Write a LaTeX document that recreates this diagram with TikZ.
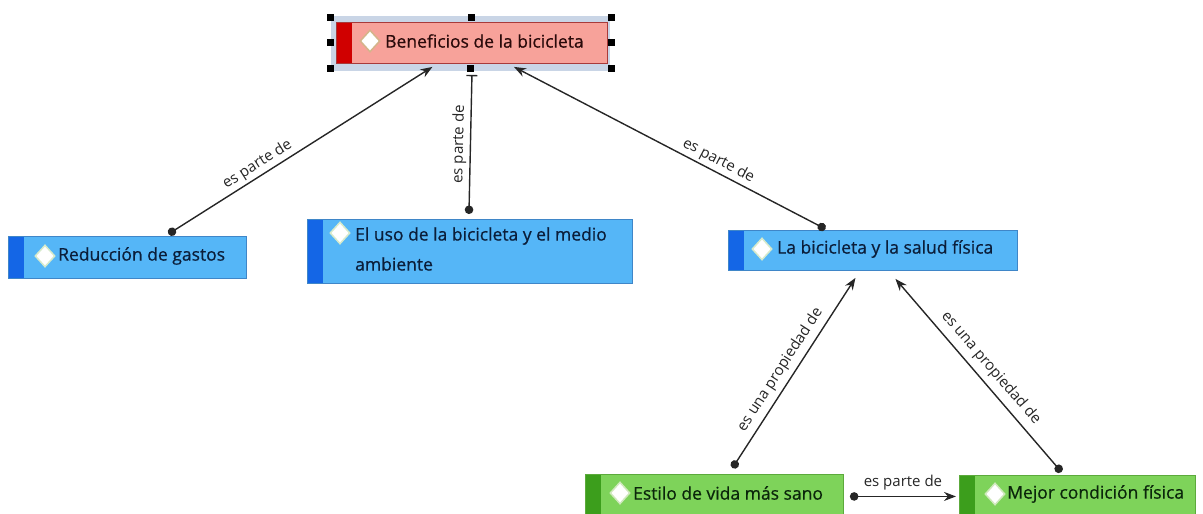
\documentclass[tikz,border=0pt]{standalone}
\usepackage{fontspec}
\setmainfont{Open Sans}
\newfontfamily\nodefont[FakeBold=0.6]{Open Sans}
\usetikzlibrary{arrows.meta,shapes.geometric}
\definecolor{redF}{HTML}{F7A29A}
\definecolor{redBar}{HTML}{D00000}
\definecolor{redB}{HTML}{A83A3A}
\definecolor{blueF}{HTML}{55B6F7}
\definecolor{blueBar}{HTML}{1466E6}
\definecolor{blueB}{HTML}{3F86C8}
\definecolor{greenF}{HTML}{7ED35A}
\definecolor{greenBar}{HTML}{3C9E1C}
\definecolor{greenB}{HTML}{5CAA3C}
\definecolor{selBg}{HTML}{C9D5E6}
\definecolor{lineC}{HTML}{262626}
\definecolor{txtR}{HTML}{2A0A0A}
\definecolor{txtB}{HTML}{0B1E3A}
\definecolor{txtG}{HTML}{0B260B}
\definecolor{diaR}{HTML}{D4B48A}
\definecolor{diaB}{HTML}{D6EACB}
\definecolor{diaG}{HTML}{CFE8BC}
\begin{document}
\begin{tikzpicture}[x=1pt,y=-1pt,
  cbox/.style n args={3}{rectangle, draw=#1, fill=#2, line width=0.9pt, inner sep=0pt, anchor=north west,
    path picture={\fill[#3] (path picture bounding box.south west) rectangle ([xshift=16pt]path picture bounding box.north west);}},
  rbox/.style={cbox={redB}{redF}{redBar}},
  bbox/.style={cbox={blueB}{blueF}{blueBar}},
  gbox/.style={cbox={greenB}{greenF}{greenBar}},
  ntext/.style={anchor=west, inner sep=0pt, font=\nodefont\fontsize{17.5}{30}\selectfont},
  dia/.style={diamond, draw=#1, fill=white, line width=1.5pt, minimum width=20pt, minimum height=22pt, inner sep=0pt},
  conn/.style={draw=lineC, line width=1.4pt, {Circle[length=8.5pt]}-{Stealth[length=12pt,width=9pt]}},
  lbl/.style={font=\fontsize{15}{17}\selectfont, text=black!85, sloped, above, inner sep=3pt},
  handle/.style={fill=black}
]
\useasboundingbox (0,0) rectangle (1203,514);

% selection background
\fill[selBg] (331,16) rectangle (610,71);

% boxes
\node[rbox, minimum width=271pt, minimum height=41pt] (ben) at (336,22) {};
\node[bbox, minimum width=238pt, minimum height=42pt] (red) at (8,236) {};
\node[bbox, minimum width=325pt, minimum height=64pt] (uso) at (307,219) {};
\node[bbox, minimum width=289pt, minimum height=40pt] (sal) at (728,230) {};
\node[gbox, minimum width=258pt, minimum height=44pt] (est) at (585,474) {};
\node[gbox, minimum width=236pt, minimum height=44pt] (mej) at (959,475) {};

% icons
\node[dia=diaR] (benD) at (370,41) {};
\node[dia=diaB] (redD) at (45,256) {};
\node[dia=diaB] (usoD) at (340,233) {};
\node[dia=diaB] (salD) at (762,249) {};
\node[dia=diaG] (estD) at (620,493) {};
\node[dia=diaG] (mejD) at (995,494) {};

% texts
\node[ntext, text=txtR] (benT) at (385,41) {Beneficios de la bicicleta};
\node[ntext, text=txtB] (redT) at (58,256) {Reducción de gastos};
\node[ntext, text=txtB, align=left] (usoT) at (355,249) {El uso de la bicicleta y el medio\\ambiente};
\node[ntext, text=txtB] (salT) at (777,249) {La bicicleta y la salud física};
\node[ntext, text=txtG] (estT) at (633,493) {Estilo de vida más sano};
\node[ntext, text=txtG] (mejT) at (1007,494) {Mejor condición física};

% connectors
\draw[conn] ([xshift=41pt,yshift=2pt]red.north) -- node[lbl, pos=0.36] {es parte de} ([xshift=-39.5pt,yshift=-3pt]ben.south);
\draw[draw=lineC, line width=1.4pt, {Circle[length=8.5pt]}-{Bar[width=11pt,line width=1.4pt]}] ([xshift=-1pt,yshift=5pt]uso.north) -- node[lbl, pos=0.5] {es parte de} ([yshift=-11pt]ben.south);
\draw[conn] ([xshift=-47.5pt,yshift=1pt]sal.north) -- node[lbl, pos=0.36] {es parte de} ([xshift=42pt,yshift=-3pt]ben.south);
\draw[conn] ([xshift=18pt,yshift=6pt]est.north) -- node[lbl, pos=0.48, yshift=2pt] {es una propiedad de} ([xshift=-17.5pt,yshift=-7pt]sal.south);
\draw[conn] ([xshift=-16pt,yshift=3pt]mej.north) -- node[lbl, pos=0.49, yshift=3pt] {es una propiedad de} ([xshift=22.5pt,yshift=-8pt]sal.south);
\draw[conn] ([xshift=6pt]est.east) -- node[lbl, pos=0.5, yshift=3pt] {es parte de} ([xshift=-3pt,yshift=1pt]mej.west);

% selection handles
\foreach \hx/\hy in {330/17,471/17,611/17,330/42,611/42,330/68,470/68,611/68}
  \fill[handle] (\hx-3.5,\hy-3.5) rectangle (\hx+3.5,\hy+3.5);
\end{tikzpicture}
\end{document}
